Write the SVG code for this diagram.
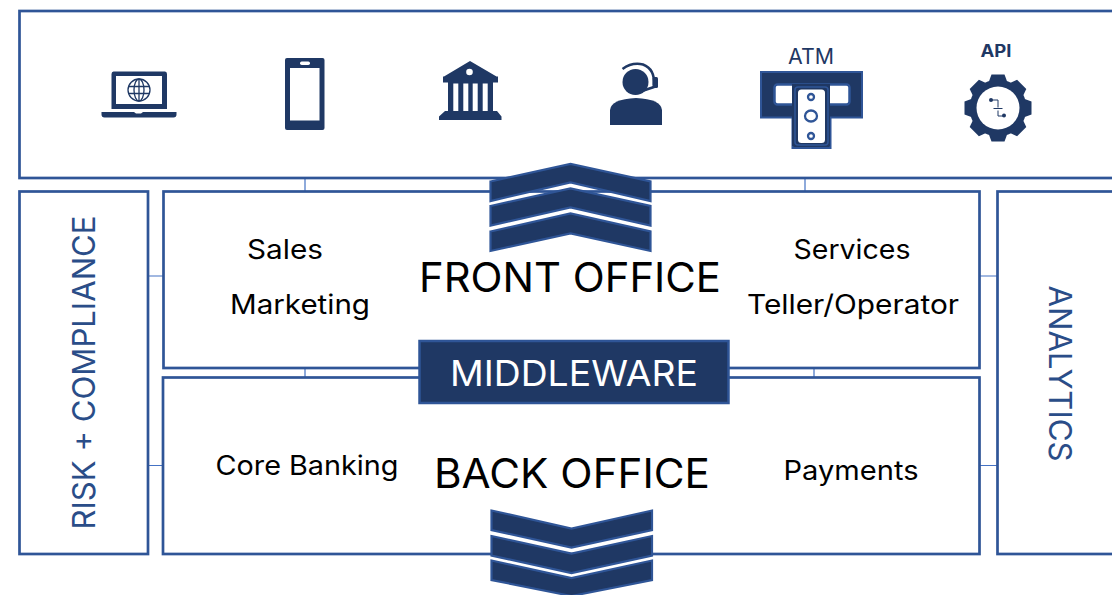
<svg xmlns="http://www.w3.org/2000/svg" width="1112" height="595" viewBox="0 0 1112 595">
<style>
.box{fill:#fff;stroke:#2f5597;stroke-width:2.700}
.conn{fill:none;stroke:#4472c4;stroke-width:1.200}
.chev{fill:#1f3864;stroke:#2f5597;stroke-width:2.200}
.ic{fill:#1f3864}
.icw{fill:#fff}
.t{font-family:Inter,"Liberation Sans",sans-serif;fill:#000}
.n{font-family:Inter,"Liberation Sans",sans-serif;fill:#2a4d88}
</style>
<defs><path id="tooth" class="ic" d="M991.500 74.500H1004.500L1008 84H988Z"/></defs>
<g id="connectors">
<path class="conn" d="M305 178V191M805 178V191M148 276H163M980 276H997M148 465.500H163M980 465.500H997M305 368V377M814 368V377"/>
</g>
<g id="channels"><rect class="box" x="19.500" y="11" width="1110" height="167"/></g>
<g id="risk"><rect class="box" x="19.500" y="191.500" width="128.500" height="362.500"/>
<text class="n" transform="translate(95 372.500) rotate(-90)" text-anchor="middle" font-size="31" textLength="314" lengthAdjust="spacingAndGlyphs">RISK + COMPLIANCE</text></g>
<g id="analytics"><rect class="box" x="997.500" y="191.500" width="140" height="362.500"/>
<text class="n" transform="translate(1049 373.500) rotate(90)" text-anchor="middle" font-size="31" textLength="176" lengthAdjust="spacingAndGlyphs">ANALYTICS</text></g>
<g id="front-office"><rect class="box" x="163.500" y="191.500" width="816" height="176.500"/>
<text class="t" x="285" y="259" text-anchor="middle" font-size="27" textLength="76" lengthAdjust="spacingAndGlyphs">Sales</text>
<text class="t" x="300" y="314" text-anchor="middle" font-size="27" textLength="140" lengthAdjust="spacingAndGlyphs">Marketing</text>
<text class="t" x="852" y="259" text-anchor="middle" font-size="27" textLength="117" lengthAdjust="spacingAndGlyphs">Services</text>
<text class="t" x="853" y="314" text-anchor="middle" font-size="27" textLength="212" lengthAdjust="spacingAndGlyphs">Teller/Operator</text>
<text class="t" x="570" y="292" text-anchor="middle" font-size="41" textLength="302" lengthAdjust="spacingAndGlyphs">FRONT OFFICE</text></g>
<g id="back-office"><rect class="box" x="163" y="377.500" width="816.500" height="176.500"/>
<text class="t" x="307" y="474.500" text-anchor="middle" font-size="27" textLength="183" lengthAdjust="spacingAndGlyphs">Core Banking</text>
<text class="t" x="851" y="480" text-anchor="middle" font-size="27" textLength="135" lengthAdjust="spacingAndGlyphs">Payments</text>
<text class="t" x="572" y="488" text-anchor="middle" font-size="41" textLength="276" lengthAdjust="spacingAndGlyphs">BACK OFFICE</text></g>
<g id="middleware"><rect x="419.500" y="341" width="309" height="62" fill="#1f3864" stroke="#2f5597" stroke-width="2.500"/>
<text x="574" y="386" text-anchor="middle" font-size="36" textLength="248" lengthAdjust="spacingAndGlyphs" font-family="Inter,Liberation Sans,sans-serif" fill="#fff">MIDDLEWARE</text></g>
<g id="arrow-up">
<path class="chev" d="M490.500 181.500L570.500 164L650.500 181.500V201L570.500 182.500L490.500 201Z"/>
<path class="chev" d="M490.500 206L570.500 188.500L650.500 206V225.500L570.500 207.500L490.500 225.500Z"/>
<path class="chev" d="M490.500 231.500L570.500 213.500L650.500 231.500V251L570.500 233.500L490.500 251Z"/>
</g>
<g id="arrow-down">
<path class="chev" d="M491.500 510.500L571.500 528.500L652 510.500V530L571.500 547.500L491.500 530Z"/>
<path class="chev" d="M491.500 536L571.500 553.500L652 536V555.500L571.500 573L491.500 555.500Z"/>
<path class="chev" d="M491.500 560.500L571.500 578L652 560.500V580L571.500 596L491.500 580Z"/>
</g>
<g id="laptop">
<path class="ic" d="M113.500 71.500H165Q167 71.500 167 74V109H111.500V74Q111.500 71.500 113.500 71.500Z"/>
<rect class="icw" x="116" y="76" width="46" height="28"/>
<path class="ic" d="M101.500 112H134L136 113.500H141L143 112H176.500V114.500Q176.500 117.500 173.500 117.500H104.500Q101.500 117.500 101.500 114.500Z"/>
<g fill="none" stroke="#1f3864" stroke-width="1.300"><circle cx="139" cy="90" r="11"/><ellipse cx="139" cy="90" rx="5" ry="11"/><path d="M139 79V101M128.800 86.500H149.200M128.800 93.500H149.200"/></g>
</g>
<g id="phone">
<rect class="ic" x="285" y="58" width="39.500" height="72" rx="2"/>
<rect class="icw" x="290" y="68" width="29.500" height="52.500"/>
<rect class="icw" x="300" y="61.500" width="10" height="3.500" rx="1.700"/>
</g>
<g id="bank">
<path class="ic" d="M470 61L496.500 76.500H498V82.500H493V111H497L501.500 116.500V120H439V116.500L445 111H448V82.500H443V76.500H444Z"/>
<circle class="icw" cx="469.500" cy="72" r="3.300"/>
<path class="icw" d="M453.300 83.500H458.300V111H453.300ZM463.300 83.500H468.300V111H463.300ZM472.700 83.500H477.700V111H472.700ZM482.700 83.500H487.700V111H482.700Z"/>
</g>
<g id="agent">
<circle class="ic" cx="635.500" cy="82" r="13"/>
<path class="ic" d="M610 125V110Q611 99 636 98Q661 99 662 110V125Z"/>
<path d="M622.500 69Q632 62 643 64.500Q655 69 654 85" fill="none" stroke="#1f3864" stroke-width="2.500"/>
<path d="M654 87L640.500 91.500" fill="none" stroke="#1f3864" stroke-width="2.800" stroke-linecap="round"/>
<rect class="ic" x="652.500" y="77" width="5.500" height="11" rx="1.500"/>
</g>
<g id="atm">
<text x="811" y="64" text-anchor="middle" font-size="21" textLength="46" lengthAdjust="spacingAndGlyphs" font-family="Inter,Liberation Sans,sans-serif" fill="#1f3864">ATM</text>
<path d="M761 72H862V117.500H830.500V148H792.500V117.500H761Z" fill="#1f3864" stroke="#2f5597" stroke-width="2"/>
<rect x="774.500" y="84.500" width="75" height="20" rx="3" fill="#fff" stroke="#2f5597" stroke-width="2.500"/>
<rect x="792" y="84" width="38" height="62" fill="#1f3864"/>
<rect x="795" y="87" width="33" height="58" rx="3" fill="#1f3864" stroke="#2f5597" stroke-width="1.500"/>
<rect class="icw" x="798" y="89.500" width="27" height="53.500" rx="3.500"/>
<g fill="none" stroke="#2f5597" stroke-width="2.300"><circle cx="811" cy="97" r="3"/><ellipse cx="811" cy="116" rx="6" ry="5.500"/><circle cx="811" cy="136" r="3"/></g>
</g>
<g id="api">
<text x="996" y="57" text-anchor="middle" font-size="17" font-weight="700" textLength="31" lengthAdjust="spacingAndGlyphs" font-family="Inter,Liberation Sans,sans-serif" fill="#1f3864">API</text>
<circle class="ic" cx="998" cy="108" r="28.500"/>
<use href="#tooth"/>
<use href="#tooth" transform="rotate(45 998 108)"/>
<use href="#tooth" transform="rotate(90 998 108)"/>
<use href="#tooth" transform="rotate(135 998 108)"/>
<use href="#tooth" transform="rotate(180 998 108)"/>
<use href="#tooth" transform="rotate(225 998 108)"/>
<use href="#tooth" transform="rotate(270 998 108)"/>
<use href="#tooth" transform="rotate(315 998 108)"/>
<circle class="icw" cx="998" cy="108" r="21.500"/>
<g fill="none" stroke="#1f3864" stroke-width="1"><path d="M991 100H998V107.500M993.500 108.500H1002.500M998 110.500V116H1004"/></g>
<circle class="ic" cx="991" cy="100" r="2"/><circle class="ic" cx="1004" cy="115.500" r="2"/>
</g>
</svg>
